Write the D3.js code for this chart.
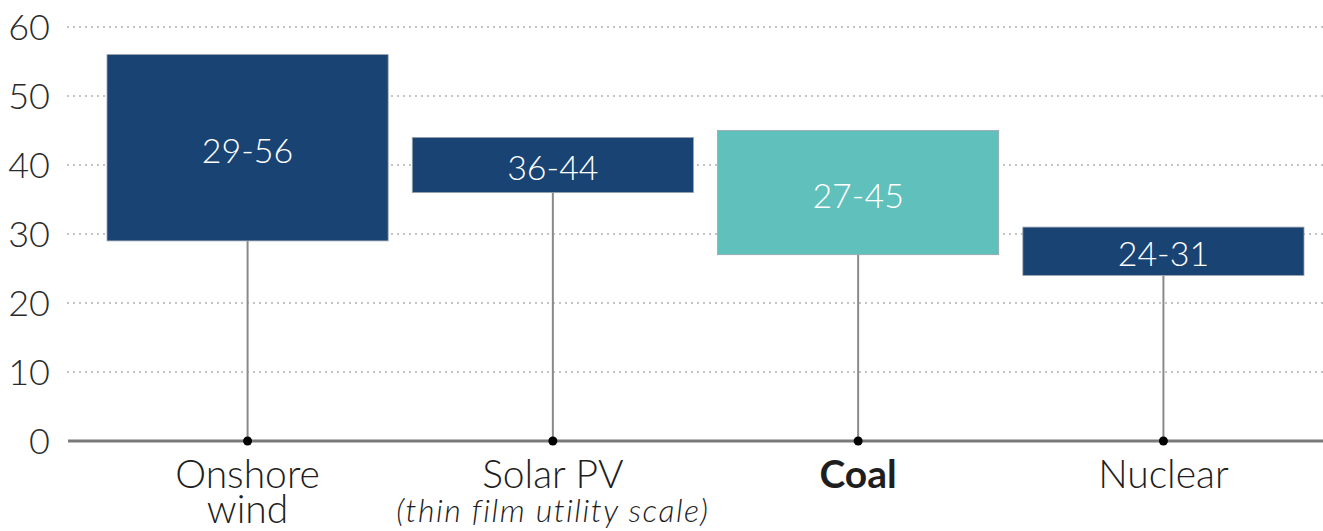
<!DOCTYPE html>
<html>
<head>
<meta charset="utf-8">
<script src="https://cdn.jsdelivr.net/npm/d3@7"></script>
<style>
  html, body { margin: 0; padding: 0; background: #fff; }
  svg { display: block; font-family: Lato, "Open Sans", sans-serif; }
</style>
</head>
<body>
<svg id="chart" width="1323" height="531"></svg>
<script>
// Cost ranges by technology
const categories = ["Onshore wind", "Solar PV", "Coal", "Nuclear"];
const lowValues  = [29, 36, 27, 24];
const highValues = [56, 44, 45, 31];
const subLabels  = ["", "(thin film utility scale)", "", ""];
const highlight  = [false, false, true, false];
const yTicks     = [0, 10, 20, 30, 40, 50, 60];

const svg = d3.select("#chart");

const y = d3.scaleLinear().domain([0, 60]).range([441, 27]);
const x = d3.scaleBand().domain(categories).range([107, 1304]).paddingInner(0.079).paddingOuter(0);

const gridLeft = 67, gridRight = 1323;

// dotted gridlines
svg.append("g").selectAll("line")
  .data(yTicks.filter(d => d > 0))
  .join("line")
  .attr("x1", gridLeft).attr("x2", gridRight)
  .attr("y1", d => y(d)).attr("y2", d => y(d))
  .attr("stroke", "#c4c4c4")
  .attr("stroke-width", 2)
  .attr("stroke-dasharray", "2,4");

// y tick labels
svg.append("g").selectAll("text")
  .data(yTicks)
  .join("text")
  .attr("x", 50)
  .attr("y", d => y(d))
  .attr("dy", "0.35em")
  .attr("text-anchor", "end")
  .attr("font-size", 36)
  .attr("font-weight", 300)
  .attr("fill", "#2a2a2a")
  .text(d => d);

const rows = categories.map((c, i) => ({
  cat: c, lo: lowValues[i], hi: highValues[i], sub: subLabels[i], hl: highlight[i]
}));

// stems from the bar bottom to the baseline
svg.append("g").selectAll("line")
  .data(rows)
  .join("line")
  .attr("x1", d => x(d.cat) + x.bandwidth() / 2)
  .attr("x2", d => x(d.cat) + x.bandwidth() / 2)
  .attr("y1", d => y(d.lo))
  .attr("y2", y(0))
  .attr("stroke", "#8a8a8a")
  .attr("stroke-width", 2);

// baseline
svg.append("line")
  .attr("x1", 68).attr("x2", gridRight)
  .attr("y1", y(0)).attr("y2", y(0))
  .attr("stroke", "#7a7a7a")
  .attr("stroke-width", 3);

// range bars
svg.append("g").selectAll("rect")
  .data(rows)
  .join("rect")
  .attr("x", d => x(d.cat))
  .attr("width", x.bandwidth())
  .attr("y", d => y(d.hi))
  .attr("height", d => y(d.lo) - y(d.hi))
  .attr("fill", d => d.hl ? "#60c0bc" : "#184372")
  .attr("stroke", "#9aa4ad")
  .attr("stroke-width", 0.8);

// range labels
svg.append("g").selectAll("text")
  .data(rows)
  .join("text")
  .attr("x", d => x(d.cat) + x.bandwidth() / 2)
  .attr("y", d => (y(d.lo) + y(d.hi)) / 2 + 3)
  .attr("dy", "0.35em")
  .attr("text-anchor", "middle")
  .attr("font-size", 34)
  .attr("font-weight", 300)
  .attr("fill", "#ffffff")
  .text(d => d.lo + "-" + d.hi);

// baseline dots
svg.append("g").selectAll("circle")
  .data(rows)
  .join("circle")
  .attr("cx", d => x(d.cat) + x.bandwidth() / 2)
  .attr("cy", y(0))
  .attr("r", 4.5)
  .attr("fill", "#000");

// category labels (one text element per category, lines as tspans)
const catLines = {
  "Onshore wind": ["Onshore", "wind"],
  "Solar PV": ["Solar PV"],
  "Coal": ["Coal"],
  "Nuclear": ["Nuclear"]
};
svg.append("g").selectAll("text")
  .data(rows)
  .join("text")
  .attr("text-anchor", "middle")
  .attr("fill", "#1e1e1e")
  .each(function(d) {
    const t = d3.select(this);
    const cx = x(d.cat) + x.bandwidth() / 2;
    catLines[d.cat].forEach((line, k) => {
      t.append("tspan")
        .attr("x", cx)
        .attr("y", 488 + k * 35)
        .attr("font-size", 39)
        .attr("font-weight", d.hl ? 700 : 300)
        .text(line);
    });
    if (d.sub) {
      t.append("tspan")
        .attr("x", cx)
        .attr("y", 522)
        .attr("font-size", 32)
        .attr("font-style", "italic")
        .attr("font-weight", 300)
        .attr("letter-spacing", 1.5)
        .text(d.sub);
    }
  });
</script>
</body>
</html>
